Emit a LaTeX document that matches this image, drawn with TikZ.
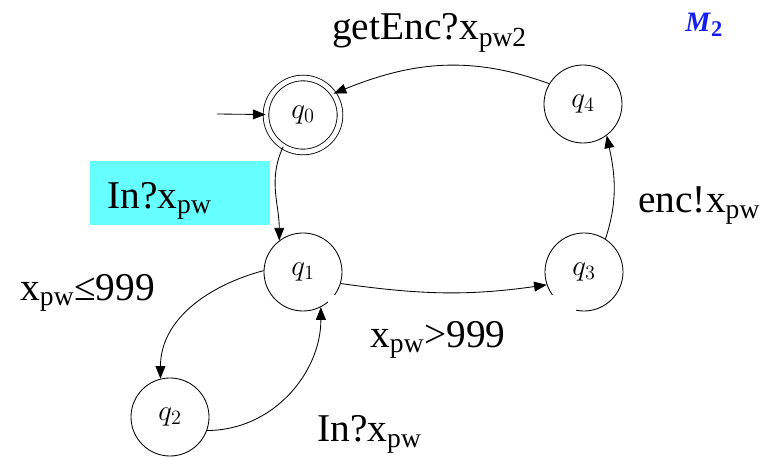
\documentclass[tikz,border=0pt]{standalone}
\usepackage{fontspec}
\setmainfont{Liberation Serif}
\usetikzlibrary{arrows.meta}
\definecolor{boxcyan}{RGB}{102,255,255}
\definecolor{mblue}{RGB}{20,30,240}
\newcommand{\xpw}{x\textsubscript{pw}}

\begin{document}
\begin{tikzpicture}[x=0.025cm,y=-0.025cm,
    state/.style={circle,draw,line width=0.6pt,minimum size=1.95cm,inner sep=0pt,font=\fontsize{21}{24}\selectfont},
    accept/.style={double,double distance=3.4pt,minimum size=1.85cm},
    lbl/.style={anchor=base west,inner sep=0pt,font=\fontsize{28}{32}\selectfont},
    lblbox/.style={anchor=north west,inner ysep=0pt,align=left,font=\fontsize{28}{32}\selectfont}]
  \useasboundingbox (0,0) rectangle (765,458);
  \node[lblbox,fill=boxcyan,inner xsep=0.425cm,text width=3.65cm,text height=1.175cm,text depth=0.425cm] (inbox) at (90,161) {In?\xpw};
  \node[state,accept] (q0) at (303,115) {$q_0$};
  \node[state] (q1) at (303,272) {$q_1$};
  \node[state] (q2) at (170,417) {$q_2$};
  \node[state] (q3) at (584,272) {$q_3$};
  \node[state] (q4) at (583,104) {$q_4$};
  \coordinate (start) at (217,114);
  \path[-{Triangle[length=9pt,width=7pt]},line width=0.6pt]
    (start) edge (q0)
    (q4.149) edge[out=160,in=22] (q0.35)
    (q0.238) edge[out=245,in=90] (q1.127)
    (q1.-17) edge[out=-8,in=188] (q3.199)
    (q3.57) edge[out=72,in=-78] (q4.-53)
    (q1.178) edge[out=195,in=90] (q2.104)
    (q2.-20) edge[out=0,in=-90] (q1.-63);
  \node[lblbox,fill=white,inner xsep=0.5cm,text width=3.5cm,text height=1.05cm,text depth=0.4cm] (le) at (0,258) {\xpw≤999};
  \node[lblbox,fill=white,inner xsep=1.05cm,text width=4.1cm,text height=1.3cm,text depth=0.45cm] (gt) at (328,295) {\xpw{}>999};
  \node[lbl] (get) at (332,40) {getEnc?x\textsubscript{pw2}};
  \node[lbl] (enc) at (638,213) {enc!\xpw};
  \node[lbl] (inlow) at (317,442) {In?\xpw};
  \node[anchor=base west,inner sep=0pt,text=mblue,font=\fontsize{20}{24}\selectfont\bfseries] (m2) at (685,32) {\textit{M}\raisebox{-3pt}{\fontsize{16}{18}\selectfont 2}};
\end{tikzpicture}
\end{document}
